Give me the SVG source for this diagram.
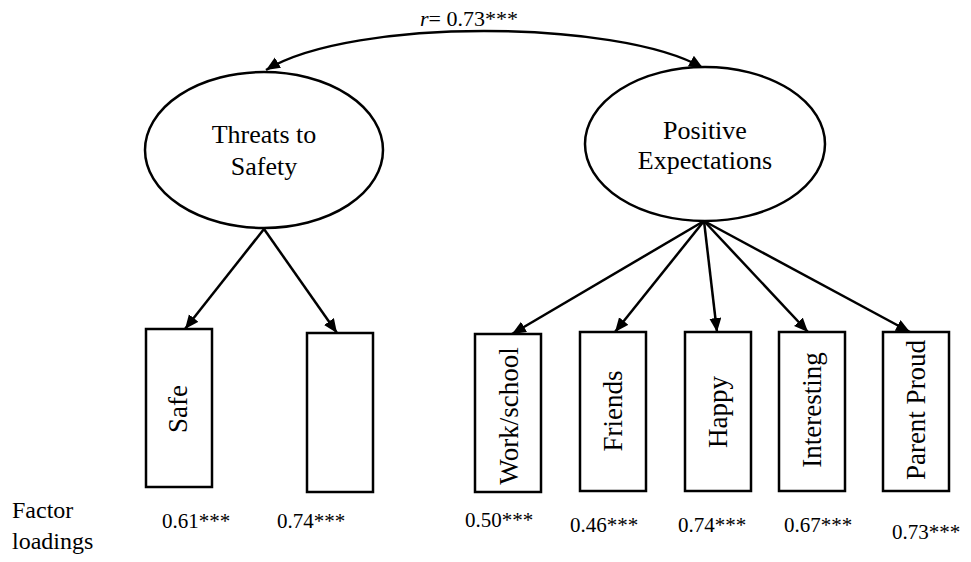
<svg xmlns="http://www.w3.org/2000/svg" width="971" height="562" viewBox="0 0 971 562">
<style>
.shape{fill:#fff;stroke:#000;stroke-width:2.5}
.conn{fill:none;stroke:#000;stroke-width:2.5}
.lbl{font-family:"Liberation Serif","Times New Roman",serif;font-size:26px;fill:#000;text-anchor:middle}
.box{font-size:27px}
.val{font-family:"Liberation Serif","Times New Roman",serif;font-size:21px;fill:#000}
.side{font-family:"Liberation Serif","Times New Roman",serif;font-size:24px;fill:#000}
</style>
<defs>
<marker id="ah" markerUnits="userSpaceOnUse" markerWidth="16" markerHeight="14" refX="14" refY="6" orient="auto">
<path d="M0,0 L14,6 L0,12 Z" fill="#000"/>
</marker>
</defs>
<rect width="971" height="562" fill="#fff"/>
<g id="connectors">
<path class="conn" d="M484,31 C400,31 310,43 266,70" marker-end="url(#ah)"/>
<path class="conn" d="M484,31 C570,31 660,43 703,68" marker-end="url(#ah)"/>
<line class="conn" x1="264" y1="229" x2="185" y2="329" marker-end="url(#ah)"/>
<line class="conn" x1="264" y1="229" x2="337" y2="333" marker-end="url(#ah)"/>
<line class="conn" x1="704" y1="221" x2="512" y2="334" marker-end="url(#ah)"/>
<line class="conn" x1="704" y1="221" x2="615" y2="332" marker-end="url(#ah)"/>
<line class="conn" x1="704" y1="221" x2="717" y2="332" marker-end="url(#ah)"/>
<line class="conn" x1="704" y1="221" x2="808" y2="332" marker-end="url(#ah)"/>
<line class="conn" x1="704" y1="221" x2="910" y2="332" marker-end="url(#ah)"/>
<text class="val" x="420" y="26" style="font-size:22px"><tspan font-style="italic">r</tspan>= 0.73***</text>
</g>
<g id="threats">
<ellipse class="shape" cx="264" cy="150" rx="119" ry="78"/>
<text class="lbl" x="264" y="143">Threats to</text>
<text class="lbl" x="264" y="175">Safety</text>
</g>
<g id="positive">
<ellipse class="shape" cx="705" cy="144" rx="120" ry="77"/>
<text class="lbl" x="705" y="139">Positive</text>
<text class="lbl" x="705" y="169">Expectations</text>
</g>
<g id="safe">
<rect class="shape" x="146" y="329" width="66" height="158"/>
<text class="lbl box" transform="translate(187,409) rotate(-90)">Safe</text>
</g>
<g id="item2">
<rect class="shape" x="307" y="333" width="66" height="159"/>
</g>
<g id="workschool">
<rect class="shape" x="475" y="334" width="66" height="158"/>
<text class="lbl box" transform="translate(518,416) rotate(-90)">Work/school</text>
</g>
<g id="friends">
<rect class="shape" x="580" y="332" width="66" height="159"/>
<text class="lbl box" transform="translate(622,411) rotate(-90)">Friends</text>
</g>
<g id="happy">
<rect class="shape" x="685" y="332" width="66" height="159"/>
<text class="lbl box" transform="translate(727,412) rotate(-90)">Happy</text>
</g>
<g id="interesting">
<rect class="shape" x="779" y="332" width="66" height="159"/>
<text class="lbl box" transform="translate(821,410) rotate(-90)">Interesting</text>
</g>
<g id="parentproud">
<rect class="shape" x="883" y="332" width="66" height="159"/>
<text class="lbl box" transform="translate(925,410) rotate(-90)">Parent Proud</text>
</g>
<g id="loadings">
<text class="side" x="12" y="518">Factor</text>
<text class="side" x="12" y="549">loadings</text>
<text class="val" x="162" y="528">0.61***</text>
<text class="val" x="277" y="528">0.74***</text>
<text class="val" x="465" y="527">0.50***</text>
<text class="val" x="570" y="532">0.46***</text>
<text class="val" x="678" y="532">0.74***</text>
<text class="val" x="784" y="532">0.67***</text>
<text class="val" x="892" y="539">0.73***</text>
</g>
</svg>
